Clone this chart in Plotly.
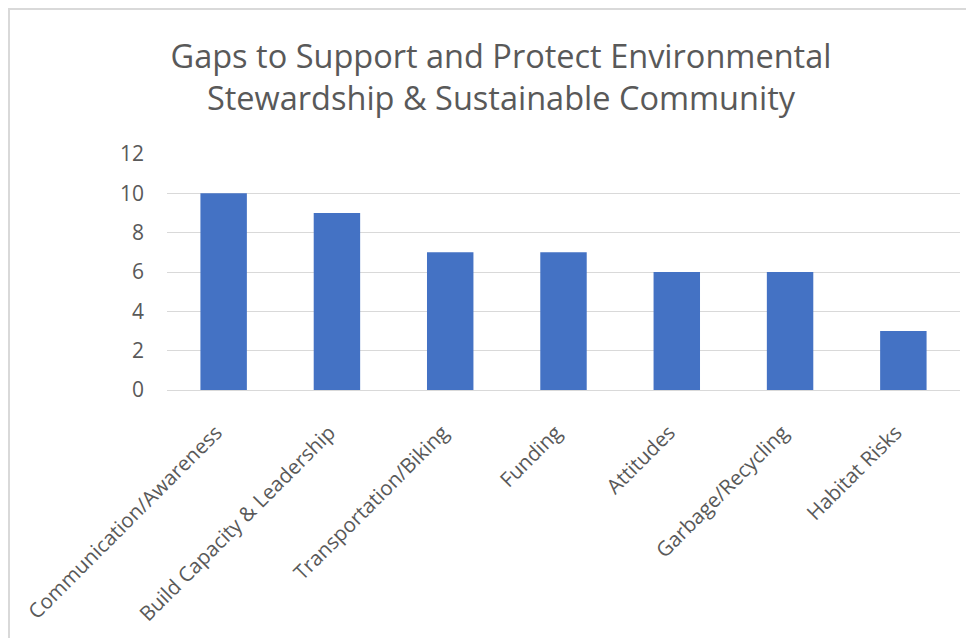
import plotly.graph_objects as go

categories = ["Communication/Awareness", "Build Capacity & Leadership", "Transportation/Biking",
              "Funding", "Attitudes", "Garbage/Recycling", "Habitat Risks"]
values = [10, 9, 7, 7, 6, 6, 3]
y_ticks = [0, 2, 4, 6, 8, 10, 12]

W, H = 974, 638
OFF = 8  # page body offset
ml, mr, mt, mb = 167 - OFF, 14 + OFF, 154 - OFF, 248 + OFF
pw, ph = W - ml - mr, H - mt - mb

fig = go.Figure(go.Bar(x=categories, y=values, marker_color="#4472C4", marker_line_width=0))

fig.update_layout(
    width=W, height=H,
    margin=dict(l=ml, r=mr, t=mt, b=mb),
    paper_bgcolor="white", plot_bgcolor="white",
    bargap=0.59,
    showlegend=False,
    title=dict(text="Gaps to Support and Protect Environmental<br>Stewardship & Sustainable Community",
               x=(501 - OFF) / W, xanchor="center", y=1 - (68 - OFF) / H, yanchor="middle",
               font=dict(family="Open Sans", size=32.5, color="#595959")),
    font=dict(family="Open Sans", color="#595959"),
)
fig.update_xaxes(tickangle=-45, tickfont=dict(size=20.5, color="#595959"), showgrid=False,
                 showline=False, ticks="", ticklabelstandoff=18,
                 tickvals=categories, ticktext=[c + "\u00a0\u00a0" for c in categories])
fig.update_yaxes(range=[0, 12], tickvals=y_ticks, tickfont=dict(size=21, color="#595959"),
                 showgrid=True, gridcolor="#d9d9d9", gridwidth=1, zeroline=True,
                 zerolinecolor="#d9d9d9", zerolinewidth=1, ticks="", ticklen=0,
                 showline=False, ticklabelstandoff=22)

# outer chart border (light gray), left & top visible
fig.add_shape(type="rect", xref="paper", yref="paper",
              x0=(9 - OFF - ml) / pw, x1=(W + 20 - ml) / pw,
              y0=1 - (H + 20 - mt) / ph, y1=1 + (mt - (9 - OFF)) / ph,
              line=dict(color="#d9d9d9", width=2), fillcolor="rgba(0,0,0,0)", layer="below")

fig.write_html("out.html")
